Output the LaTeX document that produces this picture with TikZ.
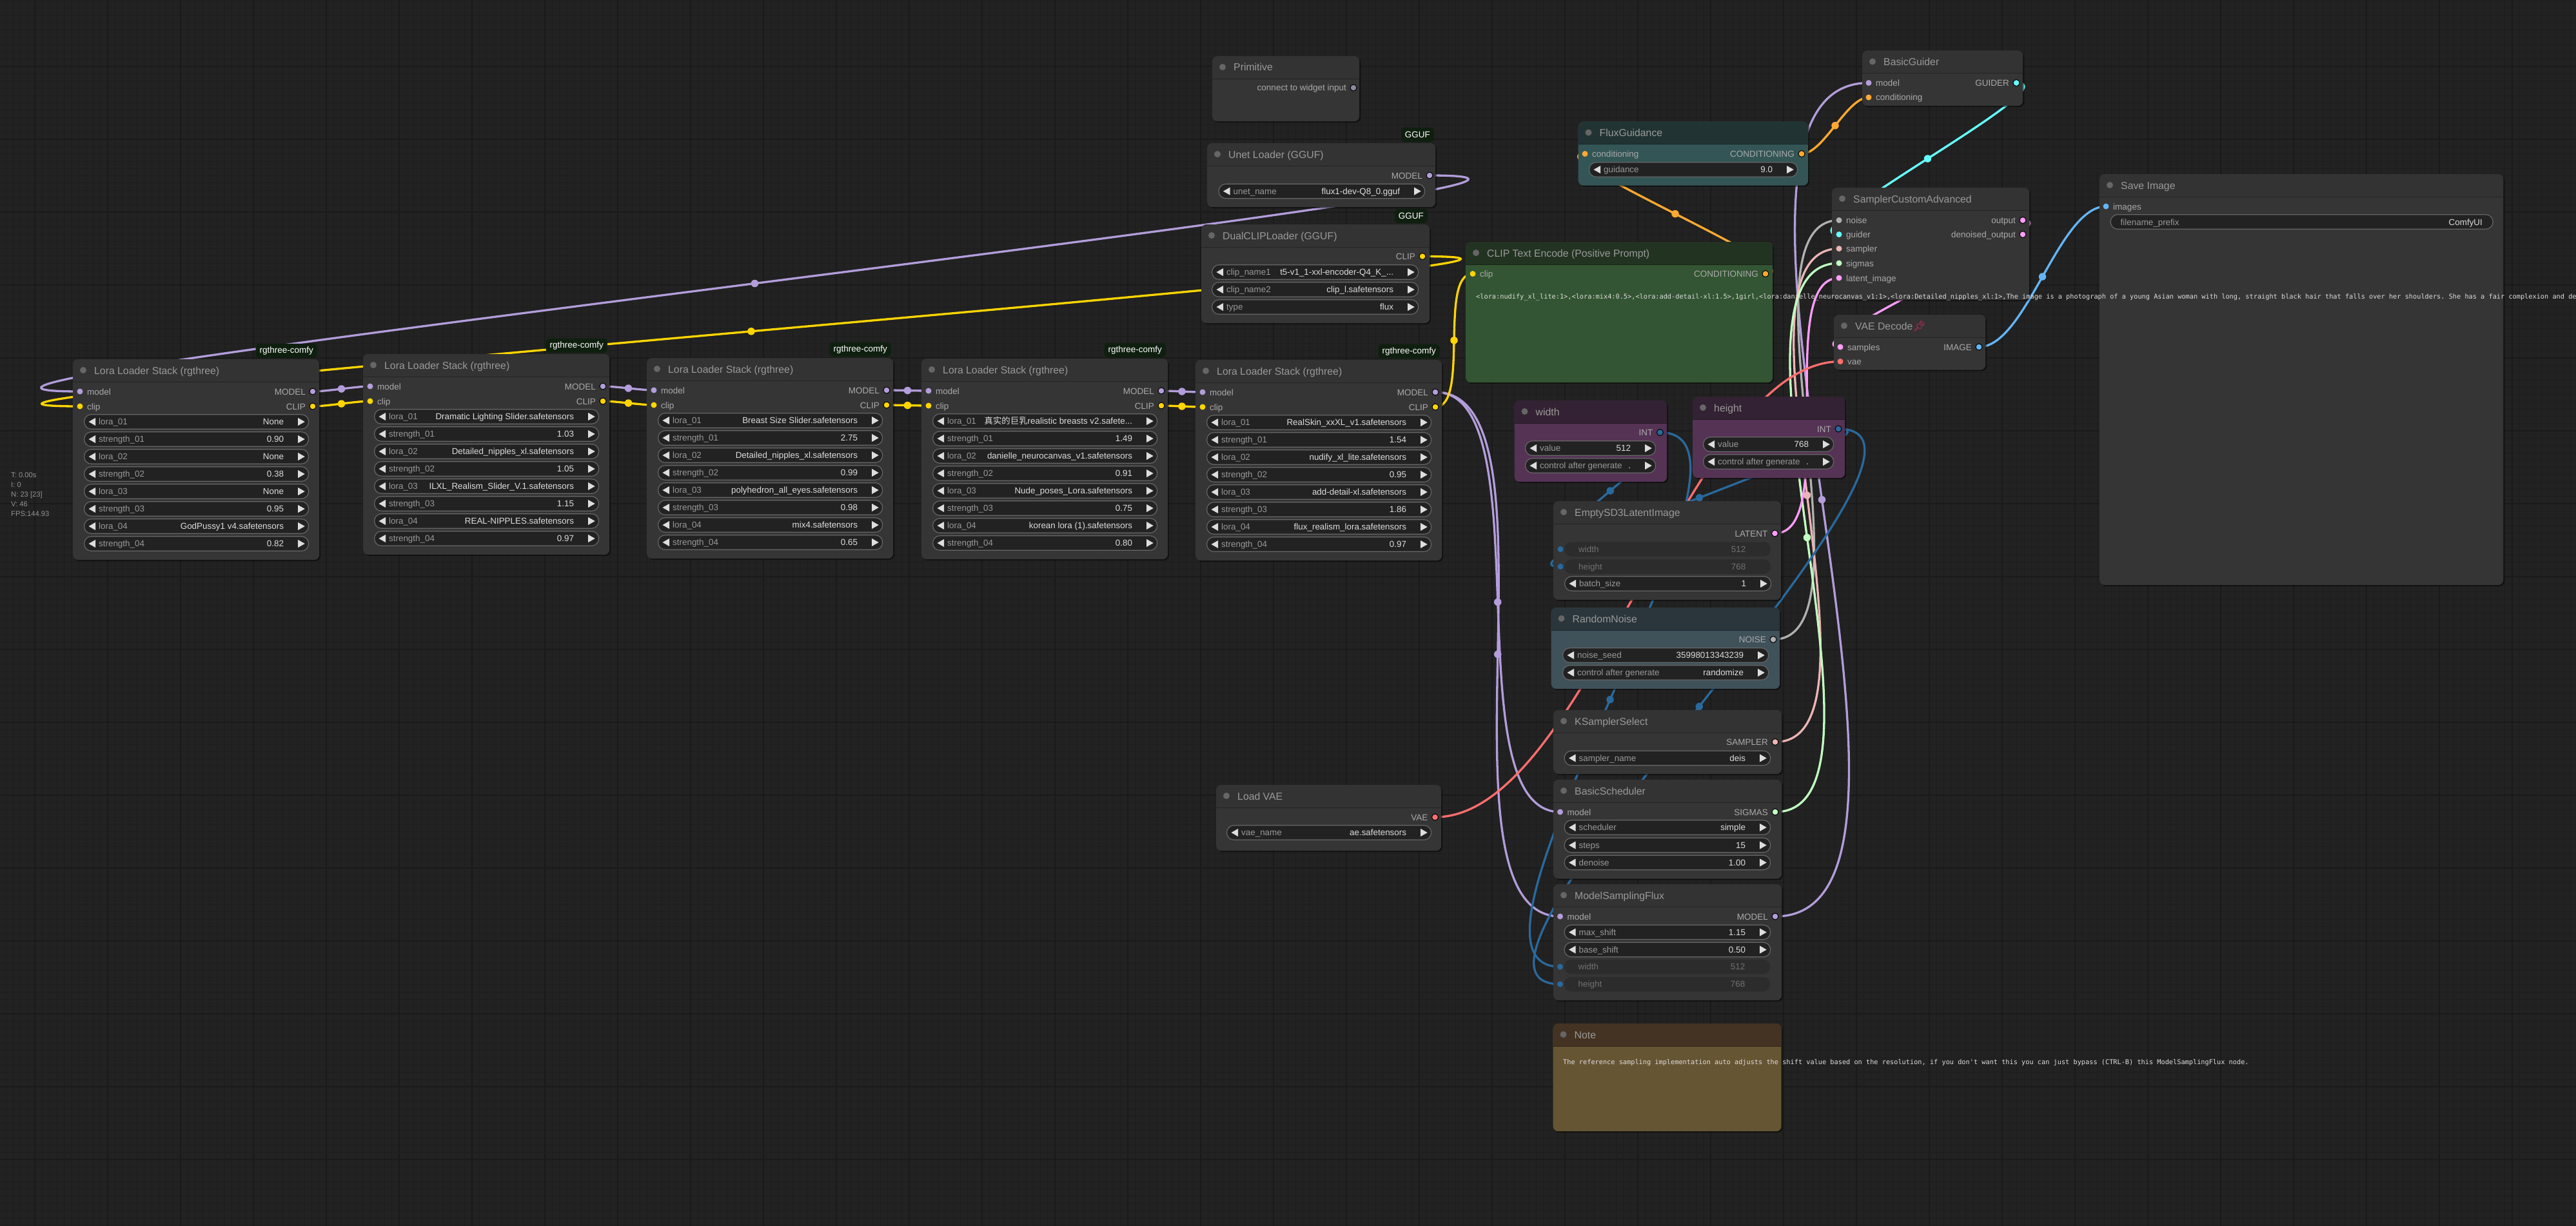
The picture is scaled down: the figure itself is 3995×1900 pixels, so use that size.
\documentclass[tikz,border=0pt]{standalone}
\usepackage{fontspec}
\setmainfont{Liberation Sans}
\setmonofont{DejaVu Sans Mono}
\newfontfamily\cjkfont{Noto Sans CJK SC}
\newfontfamily\emojifont{Noto Emoji}
\usetikzlibrary{calc, shadows}
\definecolor{canvasbg}{HTML}{222222}
\definecolor{gridminor}{HTML}{1D1D1D}
\definecolor{gridmajor}{HTML}{1A1A1A}
\definecolor{nodetitle}{HTML}{333333}
\definecolor{nodebody}{HTML}{353535}
\definecolor{titletext}{HTML}{999999}
\definecolor{slottext}{HTML}{AAAAAA}
\definecolor{dotgray}{HTML}{666666}
\definecolor{badgefill}{HTML}{0F1F0F}
\definecolor{widgetfill}{HTML}{222222}
\definecolor{widgetline}{HTML}{666666}
\definecolor{widgetoff}{HTML}{2C2C2C}
\definecolor{labeltext}{HTML}{999999}
\definecolor{valuetext}{HTML}{DDDDDD}
\definecolor{offgray}{HTML}{707070}
\definecolor{greentitle}{HTML}{223322}
\definecolor{greenbody}{HTML}{335533}
\definecolor{cyantitle}{HTML}{223333}
\definecolor{cyanbody}{HTML}{335555}
\definecolor{purpletitle}{HTML}{332233}
\definecolor{purplebody}{HTML}{553355}
\definecolor{paletitle}{HTML}{2A363B}
\definecolor{palebody}{HTML}{3F5159}
\definecolor{yellowtitle}{HTML}{443322}
\definecolor{yellowbody}{HTML}{665533}
\definecolor{pinred}{HTML}{E0245E}
\definecolor{modelc}{HTML}{B39DDB}
\definecolor{clipc}{HTML}{FFD500}
\definecolor{condc}{HTML}{FFA931}
\definecolor{latentc}{HTML}{FF9CF9}
\definecolor{vaec}{HTML}{FF6E6E}
\definecolor{imagec}{HTML}{64B5F6}
\definecolor{intc}{HTML}{29699C}
\definecolor{noisec}{HTML}{B0B0B0}
\definecolor{guiderc}{HTML}{66FFFF}
\definecolor{samplerc}{HTML}{ECB4B4}
\definecolor{sigmasc}{HTML}{C1FFC1}
\definecolor{anyc}{HTML}{8A8AA0}
\pgfdeclarelayer{gridlayer}
\pgfdeclarelayer{linklayer}
\pgfsetlayers{gridlayer,linklayer,main}
\tikzset{
    nodebox/.style={rectangle, rounded corners=8pt, inner sep=0, anchor=north west,
        drop shadow={shadow xshift=2pt, shadow yshift=-2pt, opacity=.45, fill=black}},
    nodedot/.style={circle, fill=dotgray, minimum size=10pt, inner sep=0},
    titlelabel/.style={anchor=base west, inner sep=0, text=titletext, font=\fontsize{15.8}{18}\selectfont},
    badgebox/.style={rectangle, rounded corners=5pt, fill=badgefill, text=white, anchor=south east,
        minimum height=22pt, inner xsep=6pt, inner ysep=0, font=\fontsize{13.5}{16}\selectfont},
    slotdot/.style={circle, fill=#1, minimum size=9pt, inner sep=0},
    outdot/.style={circle, fill=#1, draw=black, line width=1pt, minimum size=10pt, inner sep=0},
    slotlabel/.style={inner sep=0, text=slottext, font=\fontsize{13.5}{16}\selectfont},
    widgetbox/.style={rectangle, rounded corners=11pt, fill=widgetfill, draw=widgetline, line width=1.2pt,
        minimum height=22.5pt, inner sep=0, anchor=west},
    offbox/.style={rectangle, rounded corners=11pt, fill=widgetoff, minimum height=22.5pt, inner sep=0, anchor=west},
    wlabel/.style={anchor=base west, inner sep=0, text=labeltext, font=\fontsize{13.4}{16}\selectfont},
    wvalue/.style={anchor=base east, inner sep=0, text=valuetext, font=\fontsize{13.4}{16}\selectfont},
    offtext/.style={inner sep=0, text=offgray, font=\fontsize{13.4}{16}\selectfont},
    warrow/.style={fill=valuetext},
    linkline/.style={line width=3.3pt, draw=#1},
    linkdot/.style={circle, fill=#1, minimum size=11.5pt, inner sep=0},
    monotext/.style={anchor=base west, inner sep=0, text=valuetext, font=\ttfamily\fontsize{10.27}{12}\selectfont},
    statstext/.style={anchor=base west, inner sep=0, text=gray!85, font=\fontsize{11.2}{13}\selectfont},
}
% box with title bar: name, x, y, w, h, title, title colour, body colour
\newcommand{\comfynode}[8]{
    \node[nodebox, fill=#8, minimum width=#4pt, minimum height=#5pt] (#1) at (#2,#3) {};
    \fill[#7] (#2,#3+35) [rounded corners=8pt] -- (#2,#3) -- (#2+#4,#3) -- (#2+#4,#3+10) [sharp corners] -- (#2+#4,#3+35) -- cycle;
    \draw[black!30!#7] (#2,#3+35) -- (#2+#4,#3+35);
    \node[nodedot] (#1-dot) at (#2+16,#3+17) {};
    \node[titlelabel] (#1-title) at (#2+33,#3+23) {#6};
}
\newcommand{\slotin}[5]{
    \node[slotdot=#4] (#1) at (#2,#3) {};
    \node[slotlabel, anchor=base west] (#1-label) at (#2+11,#3+5) {#5};
}
\newcommand{\slotout}[5]{
    \node[outdot=#4] (#1) at (#2,#3) {};
    \node[slotlabel, anchor=base east] (#1-label) at (#2-11,#3+5) {#5};
}
% name, x, y, w, label, value
\newcommand{\comfywidget}[6]{
    \node[widgetbox, minimum width=#4pt] (#1) at (#2,#3) {};
    \fill[warrow] ($(#1.west)+(7.5,0)$) -- ++(10.5,-6) -- ++(0,12) -- cycle;
    \fill[warrow] ($(#1.east)+(-6.5,0)$) -- ++(-10.5,-6) -- ++(0,12) -- cycle;
    \node[wlabel] (#1-label) at ($(#1.west)+(23,4.8)$) {#5};
    \node[wvalue] (#1-value) at ($(#1.east)+(-39,4.8)$) {#6};
}
\newcommand{\offwidget}[6]{
    \node[offbox, minimum width=#4pt] (#1) at (#2,#3) {};
    \node[offtext, anchor=base west] (#1-label) at ($(#1.west)+(22,4.8)$) {#5};
    \node[offtext, anchor=base east] (#1-value) at ($(#1.east)+(-39,4.8)$) {#6};
}
\newcommand{\lorastack}[4]{
    \comfynode{#1}{#2}{#3}{382}{311}{Lora Loader Stack (rgthree)}{nodetitle}{nodebody}
    \node[badgebox] (#1-badge) at (#2+379,#3-2) {rgthree-comfy};
    \slotin{#1-model}{#2+11}{#3+50}{modelc}{model}
    \slotin{#1-clip}{#2+11}{#3+73}{clipc}{clip}
    \slotout{#1-MODEL}{#2+372}{#3+50}{modelc}{MODEL}
    \slotout{#1-CLIP}{#2+372}{#3+73}{clipc}{CLIP}
    \foreach \lab/\val [count=\k from 0] in {#4} {
        \comfywidget{#1-w\k}{#2+17}{#3+97+27*\k}{348}{\lab}{\val}
    }
}
% spline as the editor draws it, with its dot at half way
\newcommand{\linkto}[3]{
    \begin{pgfonlayer}{linklayer}
    \draw[linkline=#3] let \p1=(#1.center), \p2=(#2.center), \n1={0.25*veclen(\x2-\x1,\y2-\y1)} in
        (\p1) .. controls ($(\p1)+(\n1,0)$) and ($(\p2)-(\n1,0)$) .. (\p2)
        node[pos=0.5, linkdot=#3] (#1-#2) {};
    \end{pgfonlayer}
}
\begin{document}
\begin{tikzpicture}[x=1pt, y=-1pt]
    \useasboundingbox (0,0) rectangle (3995,1900);
    \clip (-6,-6) rectangle (4001,1906);
    \begin{pgfonlayer}{gridlayer}
    \fill[canvasbg] (-6,-6) rectangle (4001,1906);
    \foreach \gx in {9,20.3,...,3995} {
        \draw[gridminor, line width=1pt] (\gx,-6) -- (\gx,1906);
    }
    \foreach \gy in {1.4,12.7,...,1900} {
        \draw[gridminor, line width=1pt] (-6,\gy) -- (4001,\gy);
    }
    \foreach \gx in {54,167,...,3995} {
        \draw[gridmajor, line width=2.2pt] (\gx,-6) -- (\gx,1906);
    }
    \foreach \gy in {103,216,...,1900} {
        \draw[gridmajor, line width=2.2pt] (-6,\gy) -- (4001,\gy);
    }
    \end{pgfonlayer}

    % stats
    \node[statstext] (statT) at (17,740) {T: 0.00s};
    \node[statstext] (statI) at (17,755) {I: 0};
    \node[statstext] (statN) at (17,770.5) {N: 23 [23]};
    \node[statstext] (statV) at (17,785) {V: 46};
    \node[statstext] (statF) at (17,800) {FPS:144.93};

    % lora chain
    \lorastack{loraA}{113}{557}{lora\_01/None, strength\_01/0.90, lora\_02/None, strength\_02/0.38, lora\_03/None, strength\_03/0.95, lora\_04/GodPussy1 v4.safetensors, strength\_04/0.82}
    \lorastack{loraB}{563}{549}{lora\_01/Dramatic Lighting Slider.safetensors, strength\_01/1.03, lora\_02/Detailed\_nipples\_xl.safetensors, strength\_02/1.05, lora\_03/ILXL\_Realism\_Slider\_V.1.safetensors, strength\_03/1.15, lora\_04/REAL-NIPPLES.safetensors, strength\_04/0.97}
    \lorastack{loraC}{1003}{555}{lora\_01/Breast Size Slider.safetensors, strength\_01/2.75, lora\_02/Detailed\_nipples\_xl.safetensors, strength\_02/0.99, lora\_03/polyhedron\_all\_eyes.safetensors, strength\_03/0.98, lora\_04/mix4.safetensors, strength\_04/0.65}
    \lorastack{loraD}{1429}{556}{lora\_01/{{\cjkfont 真实的巨乳}realistic breasts v2.safete...}, strength\_01/1.49, lora\_02/danielle\_neurocanvas\_v1.safetensors, strength\_02/0.91, lora\_03/Nude\_poses\_Lora.safetensors, strength\_03/0.75, lora\_04/korean lora (1).safetensors, strength\_04/0.80}
    \lorastack{loraE}{1854}{558}{lora\_01/RealSkin\_xxXL\_v1.safetensors, strength\_01/1.54, lora\_02/nudify\_xl\_lite.safetensors, strength\_02/0.95, lora\_03/add-detail-xl.safetensors, strength\_03/1.86, lora\_04/flux\_realism\_lora.safetensors, strength\_04/0.97}

    % loaders
    \comfynode{primitive}{1880}{87}{228}{101}{Primitive}{nodetitle}{nodebody}
    \node[outdot=anyc] (primitive-out) at (2099,136) {};
    \node[slotlabel, anchor=base east] (primitive-text) at (2088,141) {connect to widget input};

    \comfynode{unet}{1872}{222}{354}{99}{Unet Loader (GGUF)}{nodetitle}{nodebody}
    \node[badgebox] (unet-badge) at (2224,220) {GGUF};
    \slotout{unet-MODEL}{2217}{272}{modelc}{MODEL}
    \comfywidget{unet-w}{1889.5}{296.5}{319.5}{unet\_name}{flux1-dev-Q8\_0.gguf}

    \comfynode{dualclip}{1863}{348}{354}{153}{DualCLIPLoader (GGUF)}{nodetitle}{nodebody}
    \node[badgebox] (dualclip-badge) at (2214,346) {GGUF};
    \slotout{dualclip-CLIP}{2206}{397.5}{clipc}{CLIP}
    \comfywidget{dualclip-a}{1879}{422}{320}{clip\_name1}{t5-v1\_1-xxl-encoder-Q4\_K\_...}
    \comfywidget{dualclip-b}{1879}{449}{320}{clip\_name2}{clip\_l.safetensors}
    \comfywidget{dualclip-c}{1879}{476}{320}{type}{flux}

    \comfynode{loadvae}{1886}{1217}{349}{102}{Load VAE}{nodetitle}{nodebody}
    \slotout{loadvae-VAE}{2225.5}{1267}{vaec}{VAE}
    \comfywidget{loadvae-w}{1902}{1291}{317}{vae\_name}{ae.safetensors}

    % prompt and guidance
    \comfynode{cliptext}{2273}{375}{476}{218}{CLIP Text Encode (Positive Prompt)}{greentitle}{greenbody}
    \slotin{cliptext-clip}{2284}{424.5}{clipc}{clip}
    \slotout{cliptext-COND}{2738}{424.5}{condc}{CONDITIONING}

    \comfynode{flux}{2447.5}{188.5}{356.5}{99}{FluxGuidance}{cyantitle}{cyanbody}
    \slotin{flux-cond}{2458}{238.5}{condc}{conditioning}
    \slotout{flux-COND}{2794}{238.5}{condc}{CONDITIONING}
    \comfywidget{flux-w}{2464}{263}{323}{guidance}{9.0}

    \comfynode{guider}{2888}{78.5}{249}{85.5}{BasicGuider}{nodetitle}{nodebody}
    \slotin{guider-model}{2898}{128.5}{modelc}{model}
    \slotin{guider-cond}{2898}{151}{condc}{conditioning}
    \slotout{guider-GUIDER}{3127}{128.5}{guiderc}{GUIDER}

    \comfynode{sampler}{2841}{291}{306}{174}{SamplerCustomAdvanced}{nodetitle}{nodebody}
    \slotin{sampler-noise}{2852}{341.5}{noisec}{noise}
    \slotin{sampler-guider}{2852}{363.5}{guiderc}{guider}
    \slotin{sampler-sampler}{2852}{385.5}{samplerc}{sampler}
    \slotin{sampler-sigmas}{2852}{408}{sigmasc}{sigmas}
    \slotin{sampler-latent}{2852}{431}{latentc}{latent\_image}
    \slotout{sampler-output}{3137}{341.5}{latentc}{output}
    \slotout{sampler-denoised}{3137}{363.5}{latentc}{denoised\_output}

    \comfynode{vaedecode}{2844}{488}{235}{85.5}{VAE Decode{\color{pinred}\emojifont 📌}}{nodetitle}{nodebody}
    \slotin{vaedecode-samples}{2854}{538}{latentc}{samples}
    \slotin{vaedecode-vae}{2854}{560.5}{vaec}{vae}
    \slotout{vaedecode-IMAGE}{3069}{538}{imagec}{IMAGE}

    \comfynode{saveimage}{3256}{270}{626}{637}{Save Image}{nodetitle}{nodebody}
    \slotin{saveimage-images}{3266}{320}{imagec}{images}
    \node[widgetbox, minimum width=593pt] (saveimage-w) at (3272.5,344) {};
    \node[wlabel] (saveimage-w-label) at (3288.5,349) {filename\_prefix};
    \node[wvalue] (saveimage-w-value) at (3850,349) {ComfyUI};

    % size primitives
    \comfynode{width}{2348.5}{621}{236.5}{126}{width}{purpletitle}{purplebody}
    \slotout{width-INT}{2574.5}{670.5}{intc}{INT}
    \comfywidget{width-a}{2365}{695}{202}{value}{512}
    \comfywidget{width-b}{2365}{722}{202}{control after generate}{.}

    \comfynode{height}{2625}{615}{236}{126}{height}{purpletitle}{purplebody}
    \slotout{height-INT}{2851}{665}{intc}{INT}
    \comfywidget{height-a}{2641}{689}{202}{value}{768}
    \comfywidget{height-b}{2641}{716}{202}{control after generate}{.}

    \comfynode{latent}{2409}{777}{353}{153}{EmptySD3LatentImage}{nodetitle}{nodebody}
    \slotout{latent-LATENT}{2752.5}{827}{latentc}{LATENT}
    \node[slotdot=intc] (latent-width) at (2420,851.5) {};
    \node[slotdot=intc] (latent-height) at (2420,878.5) {};
    \offwidget{latent-a}{2426}{851.5}{320}{width}{512}
    \offwidget{latent-b}{2426}{878.5}{320}{height}{768}
    \comfywidget{latent-c}{2426}{905}{320}{batch\_size}{1}

    \comfynode{noise}{2405.5}{942}{354.5}{126}{RandomNoise}{paletitle}{palebody}
    \slotout{noise-NOISE}{2750}{991.5}{noisec}{NOISE}
    \comfywidget{noise-a}{2423}{1016}{319}{noise\_seed}{35998013343239}
    \comfywidget{noise-b}{2423}{1043}{319}{control after generate}{randomize}

    \comfynode{ksel}{2409}{1101}{354}{99}{KSamplerSelect}{nodetitle}{nodebody}
    \slotout{ksel-SAMPLER}{2753}{1150.5}{samplerc}{SAMPLER}
    \comfywidget{ksel-w}{2425.5}{1175.5}{319.5}{sampler\_name}{deis}

    \comfynode{sched}{2409}{1209}{354}{153.5}{BasicScheduler}{nodetitle}{nodebody}
    \slotin{sched-model}{2419.5}{1259}{modelc}{model}
    \slotout{sched-SIGMAS}{2753}{1259}{sigmasc}{SIGMAS}
    \comfywidget{sched-a}{2425.5}{1283}{319.5}{scheduler}{simple}
    \comfywidget{sched-b}{2425.5}{1310.5}{319.5}{steps}{15}
    \comfywidget{sched-c}{2425.5}{1337.5}{319.5}{denoise}{1.00}

    \comfynode{msf}{2409}{1371}{354}{180}{ModelSamplingFlux}{nodetitle}{nodebody}
    \slotin{msf-model}{2419.5}{1421}{modelc}{model}
    \slotout{msf-MODEL}{2753}{1421}{modelc}{MODEL}
    \comfywidget{msf-a}{2425.5}{1445.5}{319.5}{max\_shift}{1.15}
    \comfywidget{msf-b}{2425.5}{1472.5}{319.5}{base\_shift}{0.50}
    \node[slotdot=intc] (msf-width) at (2419.5,1499) {};
    \node[slotdot=intc] (msf-height) at (2419.5,1526) {};
    \offwidget{msf-c}{2425.5}{1499}{319.5}{width}{512}
    \offwidget{msf-d}{2425.5}{1526}{319.5}{height}{768}

    \comfynode{note}{2408.5}{1587}{354}{167}{Note}{yellowtitle}{yellowbody}

    % links
    \linkto{unet-MODEL}{loraA-model}{modelc}
    \linkto{dualclip-CLIP}{loraA-clip}{clipc}
    \linkto{loraA-MODEL}{loraB-model}{modelc}
    \linkto{loraA-CLIP}{loraB-clip}{clipc}
    \linkto{loraB-MODEL}{loraC-model}{modelc}
    \linkto{loraB-CLIP}{loraC-clip}{clipc}
    \linkto{loraC-MODEL}{loraD-model}{modelc}
    \linkto{loraC-CLIP}{loraD-clip}{clipc}
    \linkto{loraD-MODEL}{loraE-model}{modelc}
    \linkto{loraD-CLIP}{loraE-clip}{clipc}
    \linkto{loraE-MODEL}{sched-model}{modelc}
    \linkto{loraE-MODEL}{msf-model}{modelc}
    \linkto{loraE-CLIP}{cliptext-clip}{clipc}
    \linkto{cliptext-COND}{flux-cond}{condc}
    \linkto{flux-COND}{guider-cond}{condc}
    \linkto{msf-MODEL}{guider-model}{modelc}
    \linkto{guider-GUIDER}{sampler-guider}{guiderc}
    \linkto{noise-NOISE}{sampler-noise}{noisec}
    \linkto{ksel-SAMPLER}{sampler-sampler}{samplerc}
    \linkto{sched-SIGMAS}{sampler-sigmas}{sigmasc}
    \linkto{latent-LATENT}{sampler-latent}{latentc}
    \linkto{sampler-output}{vaedecode-samples}{latentc}
    \linkto{loadvae-VAE}{vaedecode-vae}{vaec}
    \linkto{vaedecode-IMAGE}{saveimage-images}{imagec}
    \linkto{width-INT}{latent-width}{intc}
    \linkto{height-INT}{latent-height}{intc}
    \linkto{width-INT}{msf-width}{intc}
    \linkto{height-INT}{msf-height}{intc}

    % long texts run over the boxes
    \node[monotext] (prompt) at (2289,463.5) {<lora:nudify\_xl\_lite:1>,<lora:mix4:0.5>,<lora:add-detail-xl:1.5>,1girl,<lora:danielle\_neurocanvas\_v1:1>,<lora:Detailed\_nipples\_xl:1>,The image is a photograph of a young Asian woman with long, straight black hair that falls over her shoulders. She has a fair complexion and de};
    \node[monotext] (notetext) at (2424,1650) {The reference sampling implementation auto adjusts the shift value based on the resolution, if you don't want this you can just bypass (CTRL-B) this ModelSamplingFlux node.};
\end{tikzpicture}
\end{document}
